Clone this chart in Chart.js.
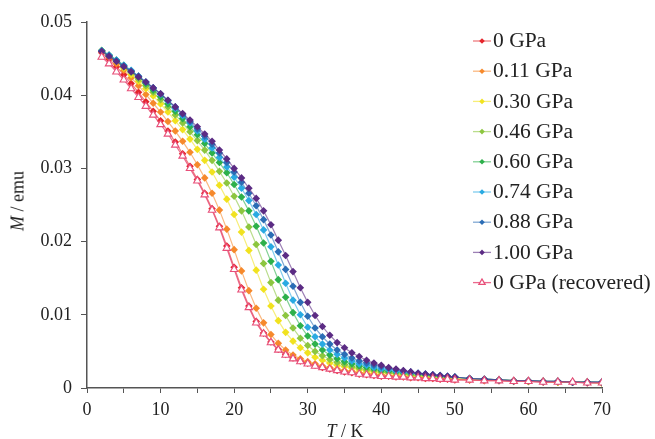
<!DOCTYPE html>
<html>
<head>
<meta charset="utf-8">
<script src="https://cdn.jsdelivr.net/npm/chart.js@4"></script>
<style>
  body { margin: 0; background: #fff; }
  #wrap { position: relative; width: 655px; height: 439px; }
  .ttl { position: absolute; font-family: "Liberation Serif", serif; font-size: 18px; color: #222; white-space: nowrap; transform: translate(-50%, -50%); }
  #ytitle { transform: translate(-50%, -50%) rotate(-90deg); }
</style>
</head>
<body>
<div id="wrap">
  <canvas id="myChart" width="655" height="439"></canvas>
  <div class="ttl" id="xtitle" style="left:345px; top:431px;"><i>T</i> / K</div>
  <div class="ttl" id="ytitle" style="left:18px; top:201px;"><i>M</i> / emu</div>
</div>
<script>
// temperature points (K)
var temps = [2,3,4,5,6,7,8,9,10,11,12,13,14,15,16,17,18,19,20,21,22,23,24,25,26,27,28,29,30,
  31,32,33,34,35,36,37,38,39,40,41,42,43,44,45,46,47,48,49,50,52,54,56,58,60,62,64,66,68,70];

var labels = ['0 GPa','0.11 GPa','0.30 GPa','0.46 GPa','0.60 GPa','0.74 GPa','0.88 GPa','1.00 GPa','0 GPa (recovered)'];

var m0 = [0.0458,0.0449,0.0439,0.0428,0.0416,0.0404,0.0391,0.0378,0.0365,0.0351,0.0336,0.0320,0.0303,0.0285,0.0266,0.0245,0.0221,0.0194,0.0165,0.0137,0.0112,0.0091,0.0075,0.0063,0.0053,0.0046,0.0041,0.0037,0.0034,
  0.0031,0.0028,0.0026,0.0024,0.0022,0.0021,0.0019,0.0018,0.0017,0.0016,0.0016,0.0015,0.0015,0.0014,0.0014,0.0013,0.0013,0.0012,0.0012,0.0011,0.0011,0.0010,0.0010,0.0009,0.0009,0.0008,0.0008,0.0008,0.0007,0.0007];
var m011 = [0.0460,0.0452,0.0443,0.0434,0.0424,0.0413,0.0401,0.0389,0.0377,0.0364,0.0351,0.0337,0.0322,0.0305,0.0287,0.0266,0.0243,0.0217,0.0189,0.0160,0.0133,0.0109,0.0089,0.0073,0.0061,0.0052,0.0045,0.0040,0.0036,
  0.0033,0.0030,0.0028,0.0026,0.0024,0.0023,0.0021,0.0020,0.0019,0.0018,0.0017,0.0017,0.0016,0.0015,0.0015,0.0014,0.0014,0.0013,0.0013,0.0012,0.0011,0.0011,0.0010,0.0010,0.0009,0.0009,0.0008,0.0008,0.0008,0.0007];
var m030 = [0.0461,0.0454,0.0446,0.0437,0.0428,0.0419,0.0409,0.0399,0.0388,0.0377,0.0365,0.0353,0.0340,0.0326,0.0311,0.0295,0.0277,0.0258,0.0237,0.0213,0.0188,0.0161,0.0135,0.0112,0.0092,0.0076,0.0064,0.0055,0.0048,
  0.0042,0.0038,0.0034,0.0031,0.0029,0.0027,0.0025,0.0023,0.0022,0.0021,0.0020,0.0019,0.0018,0.0017,0.0016,0.0016,0.0015,0.0015,0.0014,0.0013,0.0012,0.0011,0.0011,0.0010,0.0009,0.0009,0.0008,0.0008,0.0008,0.0007];
var m046 = [0.0461,0.0454,0.0447,0.0439,0.0431,0.0422,0.0413,0.0404,0.0394,0.0384,0.0373,0.0362,0.0350,0.0338,0.0325,0.0311,0.0296,0.0280,0.0262,0.0242,0.0220,0.0196,0.0170,0.0144,0.0120,0.0099,0.0082,0.0068,0.0058,
  0.0050,0.0044,0.0039,0.0035,0.0032,0.0029,0.0027,0.0025,0.0024,0.0022,0.0021,0.0020,0.0019,0.0018,0.0017,0.0017,0.0016,0.0015,0.0015,0.0014,0.0013,0.0012,0.0011,0.0010,0.0010,0.0009,0.0009,0.0008,0.0008,0.0007];
var m060 = [0.0461,0.0455,0.0448,0.0441,0.0433,0.0425,0.0416,0.0407,0.0398,0.0388,0.0378,0.0368,0.0357,0.0346,0.0334,0.0321,0.0308,0.0294,0.0278,0.0261,0.0242,0.0221,0.0198,0.0173,0.0148,0.0124,0.0103,0.0085,0.0071,
  0.0060,0.0052,0.0045,0.0040,0.0036,0.0033,0.0030,0.0028,0.0026,0.0024,0.0023,0.0022,0.0021,0.0020,0.0019,0.0018,0.0017,0.0016,0.0015,0.0015,0.0013,0.0012,0.0011,0.0010,0.0010,0.0009,0.0009,0.0008,0.0008,0.0008];
var m074 = [0.0461,0.0455,0.0448,0.0441,0.0434,0.0426,0.0418,0.0410,0.0401,0.0392,0.0382,0.0372,0.0362,0.0351,0.0340,0.0328,0.0315,0.0302,0.0288,0.0273,0.0256,0.0237,0.0216,0.0193,0.0168,0.0143,0.0120,0.0100,0.0083,
  0.0070,0.0060,0.0052,0.0046,0.0041,0.0037,0.0033,0.0031,0.0028,0.0026,0.0025,0.0023,0.0022,0.0021,0.0020,0.0019,0.0018,0.0017,0.0016,0.0015,0.0013,0.0012,0.0011,0.0010,0.0010,0.0009,0.0009,0.0008,0.0008,0.0008];
var m088 = [0.0460,0.0454,0.0447,0.0440,0.0433,0.0426,0.0418,0.0410,0.0402,0.0393,0.0384,0.0374,0.0364,0.0354,0.0344,0.0333,0.0321,0.0308,0.0295,0.0281,0.0266,0.0249,0.0230,0.0209,0.0186,0.0162,0.0139,0.0117,0.0098,
  0.0082,0.0070,0.0060,0.0052,0.0046,0.0041,0.0037,0.0034,0.0031,0.0029,0.0027,0.0025,0.0023,0.0022,0.0020,0.0019,0.0018,0.0017,0.0016,0.0015,0.0013,0.0012,0.0011,0.0010,0.0010,0.0009,0.0009,0.0008,0.0008,0.0008];
var m100 = [0.0460,0.0453,0.0446,0.0439,0.0432,0.0425,0.0418,0.0410,0.0402,0.0393,0.0384,0.0375,0.0366,0.0357,0.0347,0.0337,0.0325,0.0313,0.0300,0.0287,0.0273,0.0259,0.0242,0.0223,0.0202,0.0181,0.0159,0.0137,0.0117,
  0.0099,0.0084,0.0072,0.0062,0.0055,0.0048,0.0043,0.0038,0.0034,0.0031,0.0028,0.0026,0.0024,0.0022,0.0020,0.0019,0.0018,0.0017,0.0016,0.0015,0.0013,0.0012,0.0011,0.0010,0.0010,0.0009,0.0009,0.0008,0.0008,0.0008];
var mRec = [0.0452,0.0443,0.0432,0.0421,0.0409,0.0397,0.0385,0.0373,0.0360,0.0347,0.0332,0.0317,0.0300,0.0283,0.0264,0.0243,0.0219,0.0191,0.0162,0.0134,0.0110,0.0089,0.0074,0.0062,0.0052,0.0045,0.0040,0.0036,0.0033,
  0.0030,0.0028,0.0026,0.0024,0.0022,0.0021,0.0019,0.0018,0.0017,0.0016,0.0016,0.0015,0.0015,0.0014,0.0014,0.0013,0.0013,0.0012,0.0012,0.0011,0.0011,0.0010,0.0010,0.0009,0.0009,0.0008,0.0008,0.0008,0.0007,0.0007];

var xTicks = [0,10,20,30,40,50,60,70];
var yTicks = [0,0.01,0.02,0.03,0.04,0.05];

var series = [m0, m011, m030, m046, m060, m074, m088, m100, mRec];
var colors = ['#e5242b','#f6892b','#f1e21f','#8cc63f','#2db04b','#2aaae2','#2b6db5','#5b2b84','#e84f79'];
var serif = '"Liberation Serif", "Times New Roman", serif';

function pts(arr) {
    return arr.map(function(v, i) { return {x: temps[i], y: v}; });
}

function fade(hex, a) {
    var n = parseInt(hex.slice(1), 16);
    return 'rgba(' + (n >> 16) + ',' + ((n >> 8) & 255) + ',' + (n & 255) + ',' + a + ')';
}

var datasets = series.map(function(arr, i) {
    var rec = i === 8;
    return {
        label: labels[i],
        data: pts(arr),
        borderColor: fade(colors[i], rec ? 0.85 : 0.6),
        borderWidth: 1.2,
        pointStyle: rec ? 'triangle' : 'rectRot',
        pointRadius: rec ? 4.3 : 3.8,
        pointBorderWidth: rec ? 1.1 : 0,
        pointBackgroundColor: rec ? '#ffffff' : colors[i],
        pointBorderColor: colors[i],
        tension: 0,
        order: 9 - i
    };
});

// legend drawn at the right, inside the plot
var sideLegend = {
    id: 'sideLegend',
    afterDraw: function(chart) {
        var c = chart.ctx;
        c.save();
        datasets.forEach(function(ds, i) {
            var y = 41 + i * 30.2;
            c.strokeStyle = ds.borderColor;
            c.lineWidth = 1.3;
            c.beginPath();
            c.moveTo(473, y);
            c.lineTo(491, y);
            c.stroke();
            c.fillStyle = ds.pointBackgroundColor;
            c.strokeStyle = ds.pointBorderColor;
            Chart.helpers.drawPoint(c, {
                pointStyle: ds.pointStyle,
                radius: ds.pointStyle === 'triangle' ? 3.6 : 2.8,
                borderWidth: ds.pointBorderWidth,
                rotation: 0
            }, 482, y);
            c.save();
            c.translate(493, y + 1);
            c.scale(1.075, 1);
            c.fillStyle = '#222';
            c.font = '20px ' + serif;
            c.textBaseline = 'middle';
            c.textAlign = 'left';
            c.fillText(ds.label, 0, 0);
            c.restore();
        });
        c.restore();
    }
};

var ctx = document.getElementById('myChart').getContext('2d');
var myChart = new Chart(ctx, {
    type: 'line',
    data: { datasets: datasets },
    options: {
        responsive: false,
        animation: false,
        layout: { padding: { left: 0, right: 53, top: 22, bottom: 0 } },
        plugins: {
            legend: { display: false },
            tooltip: { enabled: false }
        },
        scales: {
            x: {
                type: 'linear',
                min: 0,
                max: 70,
                afterFit: function(s) { s.height = 51; },
                grid: { drawOnChartArea: false, drawTicks: true, tickLength: 5, color: '#555' },
                border: { display: true, color: '#555', width: 1.5 },
                ticks: {
                    stepSize: 5,
                    autoSkip: false,
                    maxRotation: 0,
                    padding: 6,
                    color: '#222',
                    font: { family: serif, size: 18 },
                    callback: function(v) { return xTicks.indexOf(v) >= 0 ? String(v) : ''; }
                }
            },
            y: {
                min: 0,
                max: 0.05,
                afterFit: function(s) { s.width = 87; },
                grid: { drawOnChartArea: false, drawTicks: true, tickLength: 6, color: '#555' },
                border: { display: true, color: '#555', width: 1.5 },
                ticks: {
                    stepSize: 0.01,
                    padding: 9,
                    color: '#222',
                    font: { family: serif, size: 18 },
                    callback: function(v) {
                        var t = yTicks.find(function(k) { return Math.abs(k - v) < 1e-9; });
                        if (t === undefined) return '';
                        return t === 0 ? '0' : t.toFixed(2);
                    }
                }
            }
        }
    },
    plugins: [sideLegend]
});
</script>
</body>
</html>
